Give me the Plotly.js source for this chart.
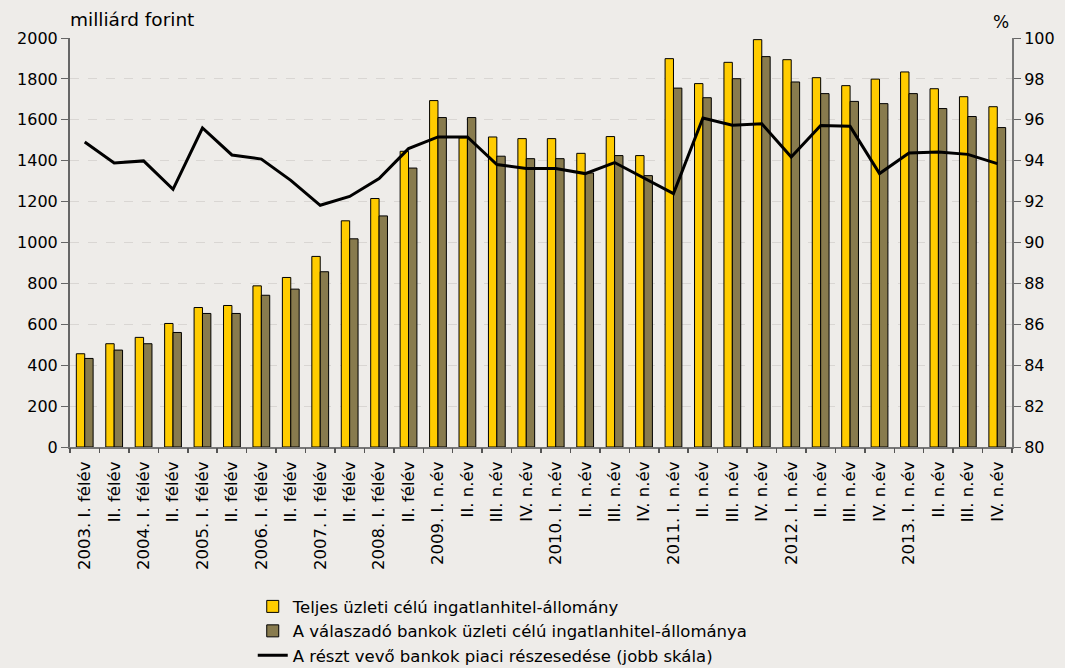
<!DOCTYPE html>
<html>
<head>
<meta charset="utf-8">
<script src="https://cdn.plot.ly/plotly-3.0.1.min.js"></script>
<style>html,body{margin:0;padding:0;background:#EEECE9;}#chart{width:1065px;height:668px;}</style>
</head>
<body>
<div id="chart"></div>
<script>
const tickLabels = [
  "2003. I. félév","II. félév","2004. I. félév","II. félév","2005. I. félév","II. félév",
  "2006. I. félév","II. félév","2007. I. félév","II. félév","2008. I. félév","II. félév",
  "2009. I. n.év","II. n.év","III. n.év","IV. n.év",
  "2010. I. n.év","II. n.év","III. n.év","IV. n.év",
  "2011. I. n.év","II. n.év","III. n.év","IV. n.év",
  "2012. I. n.év","II. n.év","III. n.év","IV. n.év",
  "2013. I. n.év","II. n.év","III. n.év","IV. n.év"
];
const totalStock = [456,505,536,604,682,692,788,829,932,1106,1215,1446,1694,1512,1516,1508,1508,1436,1518,1425,1899,1777,1881,1992,1894,1806,1767,1799,1834,1752,1713,1664];
const respondentStock = [433,474,505,560,653,653,742,772,857,1018,1130,1364,1611,1611,1422,1410,1410,1340,1425,1327,1755,1708,1801,1909,1785,1728,1690,1679,1728,1655,1616,1562];
const marketShare = [94.91,93.89,93.99,92.60,95.60,94.28,94.08,93.04,91.82,92.25,93.13,94.59,95.16,95.16,93.81,93.62,93.62,93.37,93.91,93.13,92.39,96.09,95.73,95.81,94.18,95.72,95.68,93.37,94.38,94.43,94.31,93.86];
const seriesNames = [
  "Teljes üzleti célú ingatlanhitel-állomány",
  "A válaszadó bankok üzleti célú ingatlanhitel-állománya",
  "A részt vevő bankok piaci részesedése (jobb skála)"
];

const idx = tickLabels.map((_, i) => i);
const boundaries = [];
for (let i = 0; i <= tickLabels.length; i++) boundaries.push(i - 0.5);

const FAM = "DejaVu Sans, sans-serif";

const traces = [
  {type: "bar", x: idx, y: totalStock, name: seriesNames[0],
   marker: {color: "#FFCC00", line: {color: "#000", width: 1}}, hoverinfo: "skip"},
  {type: "bar", x: idx, y: respondentStock, name: seriesNames[1],
   marker: {color: "#887B4E", line: {color: "#000", width: 1}}, hoverinfo: "skip"},
  {type: "scatter", mode: "lines", x: idx, y: marketShare, yaxis: "y2", name: seriesNames[2],
   line: {color: "#000", width: 3}, hoverinfo: "skip"},
  {type: "scatter", mode: "lines", x: [0], y: [null], xaxis: "x2", yaxis: "y",
   showlegend: false, hoverinfo: "skip"}
];

const layout = {
  width: 1065, height: 668,
  paper_bgcolor: "#EEECE9", plot_bgcolor: "#EEECE9",
  font: {family: FAM, size: 16, color: "#000"},
  margin: {l: 70, r: 53, t: 38, b: 221},
  barmode: "group", bargap: 0.43, bargroupgap: 0,
  showlegend: true,
  legend: {x: 0.194, xref: "paper", y: 0.118, yref: "container", xanchor: "left", yanchor: "top",
           orientation: "v", bgcolor: "rgba(0,0,0,0)",
           font: {family: FAM, size: 16.5, color: "#000"},
           traceorder: "normal", itemwidth: 30, tracegroupgap: 0},
  xaxis: {range: [-0.5, 31.5], tickmode: "array", tickvals: idx, ticktext: tickLabels,
          tickangle: -90, ticks: "", showgrid: false, zeroline: false, automargin: false,
          showline: true, linecolor: "#777", linewidth: 2, ticklabelstandoff: 6,
          tickfont: {family: FAM, size: 16.5, color: "#000"}},
  xaxis2: {range: [-0.5, 31.5], overlaying: "x", anchor: "y", side: "bottom", automargin: false,
           tickmode: "array", tickvals: boundaries, ticks: "outside", ticklen: 5, tickwidth: 1.5,
           tickcolor: "#555", showticklabels: false, showgrid: false, zeroline: false, showline: false},
  yaxis: {range: [0, 2000], dtick: 200, tick0: 0, ticks: "outside", ticklen: 7, tickcolor: "#666",
          showline: true, linecolor: "#666", linewidth: 2, showgrid: true, gridcolor: "#D9D6D3",
          griddash: "dash", gridwidth: 1, zeroline: false, automargin: false,
          tickfont: {family: FAM, size: 16, color: "#000"}},
  yaxis2: {range: [80, 100], dtick: 2, tick0: 80, overlaying: "y", side: "right", ticks: "outside",
           ticklen: 7, tickcolor: "#666", showline: true, linecolor: "#777", linewidth: 2,
           showgrid: false, zeroline: false, automargin: false,
           tickfont: {family: FAM, size: 16, color: "#000"}},
  annotations: [
    {text: "milliárd forint", xref: "paper", yref: "paper", x: -0.002, y: 1.045,
     xanchor: "left", yanchor: "middle", showarrow: false,
     font: {family: FAM, size: 18.5, color: "#000"}},
    {text: "%", xref: "paper", yref: "paper", x: 0.988, y: 1.04,
     xanchor: "center", yanchor: "middle", showarrow: false,
     font: {family: FAM, size: 17, color: "#000"}}
  ]
};

Plotly.newPlot("chart", traces, layout, {displayModeBar: false, staticPlot: true});
</script>
</body>
</html>
